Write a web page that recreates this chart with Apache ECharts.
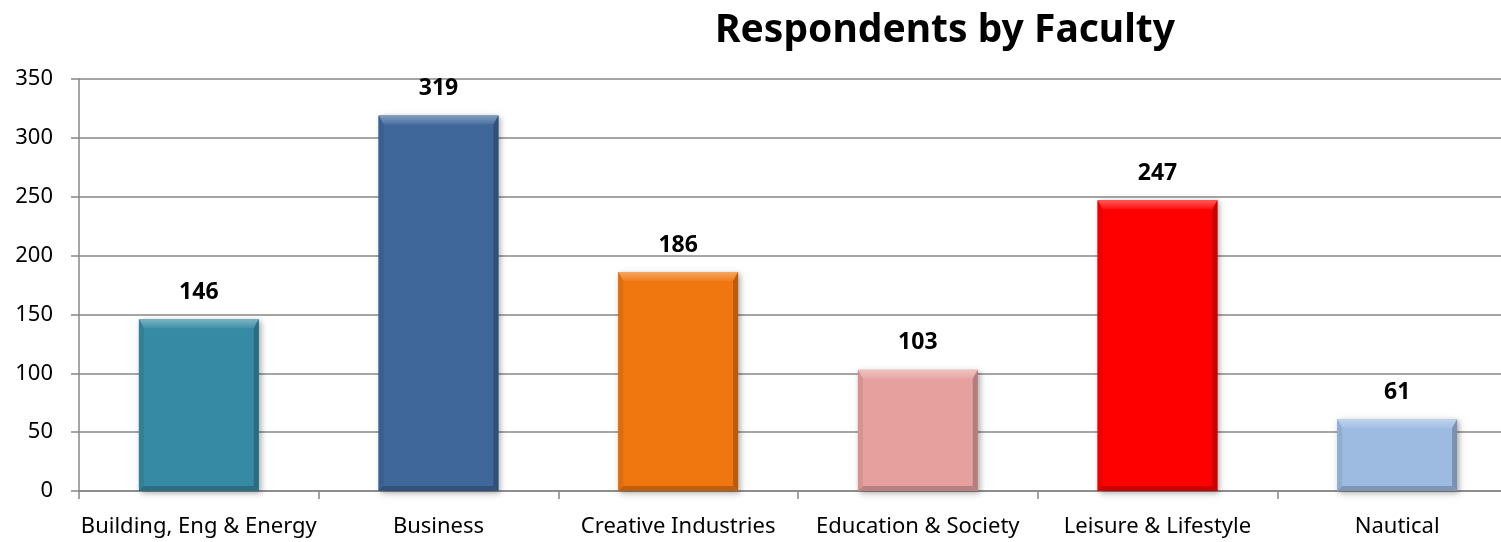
<!DOCTYPE html>
<html>
<head>
<meta charset="utf-8">
<script src="https://cdn.jsdelivr.net/npm/echarts@6/dist/echarts.min.js"></script>
<style>
  html, body { margin: 0; padding: 0; background: #fff; }
  #chart { width: 1501px; height: 542px; }
</style>
</head>
<body>
<div id="chart"></div>
<script>
// Survey respondents per faculty
const categories = ['Building, Eng & Energy', 'Business', 'Creative Industries', 'Education & Society', 'Leisure & Lifestyle', 'Nautical'];
const respondents = [146, 319, 186, 103, 247, 61];
const barColors = ['#368AA4', '#3F679A', '#F0760F', '#E6A19F', '#FF0000', '#9DBBE1'];
const yTicks = { min: 0, max: 350, interval: 50 };

const FONT = '"Noto Sans", "DejaVu Sans", sans-serif';

function shade(hex, amt) {
  const n = parseInt(hex.slice(1), 16);
  let r = (n >> 16) & 255, g = (n >> 8) & 255, b = n & 255;
  const f = c => Math.max(0, Math.min(255, Math.round(amt >= 0 ? c + (255 - c) * amt : c * (1 + amt))));
  return 'rgb(' + f(r) + ',' + f(g) + ',' + f(b) + ')';
}

// Bevelled bar: flat face with a light top edge and darker sides/bottom
function renderBar(params, api) {
  const idx = api.value(0);
  const val = api.value(1);
  const top = api.coord([idx, val]);
  const base = api.coord([idx, 0]);
  const w = api.size([1, 0])[0] * 0.5;
  const x0 = top[0] - w / 2, x1 = top[0] + w / 2;
  const y0 = top[1], y1 = base[1];
  const c = barColors[idx];
  const bt = 9, bs = 5, bb = 5;
  return {
    type: 'group',
    children: [
      { type: 'rect', shape: { x: x0, y: y0, width: w, height: y1 - y0 },
        style: { fill: c, shadowBlur: 6, shadowColor: 'rgba(0,0,0,0.35)', shadowOffsetX: 2, shadowOffsetY: 2 } },
      { type: 'polygon', shape: { points: [[x0, y0], [x1, y0], [x1 - bs, y0 + bt], [x0 + bs, y0 + bt]] },
        style: { fill: { type: 'linear', x: 0, y: 0, x2: 0, y2: 1, colorStops: [
          { offset: 0, color: shade(c, 0.35) }, { offset: 1, color: shade(c, 0.06) }] } } },
      { type: 'polygon', shape: { points: [[x0, y0], [x0 + bs, y0 + bt], [x0 + bs, y1 - bb], [x0, y1]] },
        style: { fill: shade(c, -0.08) } },
      { type: 'polygon', shape: { points: [[x1, y0], [x1 - bs, y0 + bt], [x1 - bs, y1 - bb], [x1, y1]] },
        style: { fill: shade(c, -0.22) } },
      { type: 'polygon', shape: { points: [[x0, y1], [x0 + bs, y1 - bb], [x1 - bs, y1 - bb], [x1, y1]] },
        style: { fill: shade(c, -0.2) } },
      { type: 'text', x: top[0], y: y0 - 27,
        style: { text: String(val), fill: '#000', font: 'bold 23px ' + FONT, align: 'center', verticalAlign: 'middle' } }
    ]
  };
}

const chart = echarts.init(document.getElementById('chart'), null, { renderer: 'canvas' });
chart.setOption({
  animation: false,
  backgroundColor: '#fff',
  title: {
    text: 'Respondents by Faculty',
    left: 940, top: 6, textAlign: 'center',
    textStyle: { fontFamily: FONT, fontWeight: 'bold', fontSize: 39, color: '#000' }
  },
  // plot area runs past the right edge of the canvas
  grid: { left: 79, width: 1438, top: 79, height: 412, containLabel: false, outerBoundsMode: 'none' },
  xAxis: {
    type: 'category',
    data: categories,
    axisLine: { lineStyle: { color: '#878787', width: 1.5 } },
    axisTick: { show: true, length: 8, alignWithLabel: false, lineStyle: { color: '#878787', width: 1.5 } },
    axisLabel: { color: '#000', fontFamily: FONT, fontSize: 22, margin: 25, interval: 0 }
  },
  yAxis: {
    type: 'value',
    min: yTicks.min, max: yTicks.max, interval: yTicks.interval,
    axisLine: { show: true, lineStyle: { color: '#878787', width: 1.5 } },
    axisTick: { show: true, length: 8, lineStyle: { color: '#878787', width: 1.5 } },
    splitLine: { lineStyle: { color: '#878787', width: 1.5 } },
    axisLabel: { color: '#000', fontFamily: FONT, fontSize: 22, margin: 26 }
  },
  series: [{
    type: 'custom',
    renderItem: renderBar,
    data: respondents.map((v, i) => [i, v]),
    encode: { x: 0, y: 1 },
    clip: false
  }]
});
</script>
</body>
</html>
